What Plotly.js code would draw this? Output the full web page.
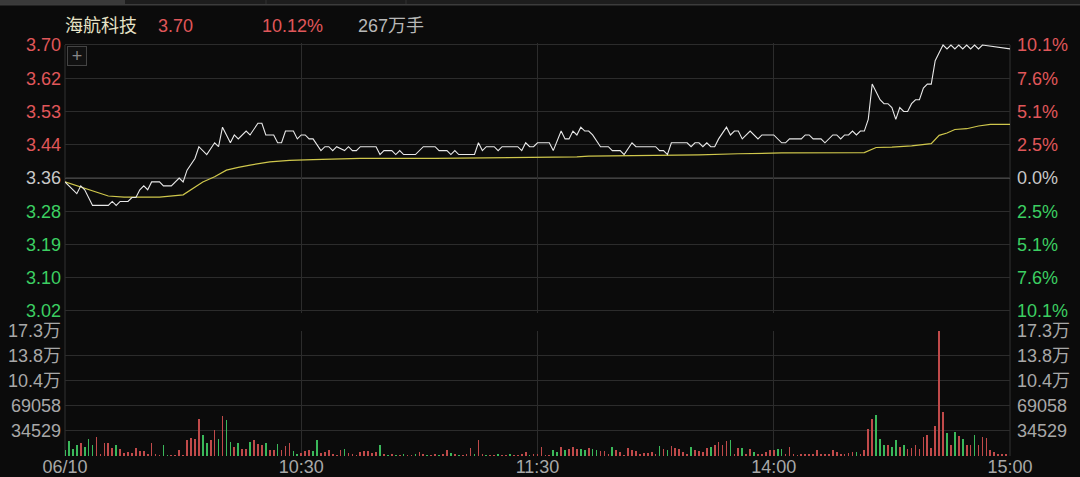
<!DOCTYPE html>
<html>
<head>
<meta charset="utf-8">
<script src="https://cdn.plot.ly/plotly-3.0.1.min.js"></script>
<style>
html,body{margin:0;padding:0;background:#0b0b0b;}
#chart{width:1080px;height:477px;}
</style>
</head>
<body>
<div id="chart"></div>
<script>
// ---------------- DATA ----------------
const stockName = '海航科技';
const lastPrice = '3.70';
const changePct = '10.12%';
const totalVolume = '267万手';
const prevClose = 3.36;

// minute index (0 = 09:30, 120 = 11:30/13:00, 240 = 15:00) and price
const priceT = [0,3,4,5,7,11,12,13,14,16,17,18,19,20,21,22,24,25,27,29,30,31,33,34,36,38,39,40,42,43,44,46,47,49,50,51,53,54,55,56,58,59,60,61,62,63,65,66,67,68,69,71,72,73,74,75,79,80,81,83,84,85,86,89,91,94,95,97,98,99,100,104,105,106,107,109,110,111,115,116,117,118,119,120,123,124,126,127,128,129,130,131,132,133,134,136,138,139,141,142,144,145,150,151,152,153,154,158,159,160,161,162,163,164,165,166,168,169,170,171,172,174,176,177,180,182,183,184,187,188,189,190,192,193,195,196,197,198,199,200,201,202,203,204,205,206,207,208,209,210,211,212,213,214,215,216,217,218,219,220,221,222,223,224,225,226,227,228,229,230,231,232,233,240];
const priceV = [3.35,3.32,3.34,3.33,3.29,3.29,3.30,3.29,3.30,3.30,3.31,3.31,3.33,3.34,3.33,3.35,3.35,3.34,3.34,3.36,3.35,3.38,3.41,3.44,3.42,3.45,3.44,3.49,3.45,3.47,3.46,3.48,3.47,3.50,3.50,3.47,3.47,3.45,3.45,3.48,3.48,3.46,3.47,3.47,3.46,3.46,3.43,3.44,3.44,3.43,3.44,3.43,3.44,3.43,3.43,3.44,3.44,3.42,3.43,3.43,3.42,3.43,3.42,3.42,3.44,3.44,3.43,3.43,3.42,3.43,3.42,3.42,3.45,3.43,3.44,3.44,3.43,3.44,3.44,3.43,3.45,3.44,3.44,3.45,3.45,3.43,3.48,3.46,3.46,3.48,3.47,3.49,3.48,3.48,3.47,3.44,3.44,3.43,3.43,3.42,3.45,3.44,3.44,3.43,3.43,3.42,3.45,3.45,3.44,3.45,3.45,3.44,3.45,3.44,3.44,3.46,3.49,3.47,3.48,3.48,3.46,3.48,3.46,3.47,3.47,3.45,3.45,3.46,3.46,3.47,3.47,3.46,3.46,3.45,3.47,3.47,3.46,3.47,3.47,3.48,3.47,3.48,3.48,3.51,3.60,3.58,3.56,3.55,3.55,3.54,3.51,3.54,3.53,3.53,3.55,3.56,3.56,3.59,3.60,3.60,3.66,3.68,3.70,3.69,3.70,3.69,3.70,3.69,3.70,3.69,3.70,3.69,3.70,3.69,3.70];

// average price line
const avgT = [0,3,5,7,11,15,24,30,33,35,38,41,44,47,52,57,63,70,75,94,124,130,133,153,161,171,182,203,206,210,215,220,222,224,226,229,232,235,240];
const avgV = [3.350,3.340,3.335,3.327,3.314,3.311,3.311,3.317,3.336,3.350,3.363,3.380,3.387,3.393,3.401,3.405,3.407,3.408,3.410,3.410,3.412,3.414,3.416,3.418,3.419,3.422,3.424,3.425,3.438,3.439,3.442,3.448,3.469,3.475,3.484,3.486,3.493,3.497,3.497];

// per-minute volume (240 bars) and direction (1 = up/red, -1 = down/green)
const volume = [
8700,20700,10100,14700,18400,12400,23900,15600,26200,3200,
18400,18400,11500,15600,10100,4100,5500,4100,11500,6900,
6900,2300,18000,3200,1500,14700,1500,1500,2000,8700,
2000,21600,25300,23000,51600,28500,18000,21600,35500,23900,
54800,49300,19300,12400,18000,10100,10100,19300,21600,17000,
14700,18000,8700,8700,16100,7800,13400,18000,6900,3200,
4100,6900,7800,6900,21600,4100,5500,8700,2300,1800,
7800,10100,4100,2300,1500,5500,6900,6900,4600,5500,
14700,2300,1500,2300,1800,1500,2300,1500,1800,2300,
5500,2300,1500,1800,2300,1500,3200,8700,4100,2300,
1800,1500,2300,11000,2300,21600,2300,1800,1500,1800,
2300,1500,1800,2300,1500,1800,2300,5500,1800,2300,
3200,12400,1000,800,7800,5500,12400,8700,10100,12400,
10100,10100,8700,11000,9200,7800,6400,6900,3200,12400,
7800,5000,1800,10600,7800,6400,3200,4100,4100,5500,
3200,13400,9600,7800,13400,11000,10100,5500,2300,12400,
7800,6400,5000,11000,12400,14700,19300,15200,20300,21600,
3200,11000,11000,2300,9200,5500,3200,3200,5500,7800,
7800,9600,10100,3200,12400,2300,1500,3200,3200,3200,
2300,7800,3200,2300,2300,7800,5500,3200,3200,4100,
5000,5500,3200,7800,37700,50600,56200,23900,14700,15700,
12400,21600,12400,14700,10100,11000,15700,10100,26200,28500,
11000,41000,172600,60800,31800,14700,32700,27200,23900,14700,
15700,29500,14700,26200,25300,7800,5500,3200,2300,2300
];
const volDir = [
-1,-1,-1,-1,1,-1,-1,-1,1,1,
1,1,1,-1,1,1,1,1,1,1,
1,1,1,1,1,-1,-1,1,1,1,
1,1,1,1,1,-1,-1,1,1,-1,
1,-1,-1,1,-1,1,1,-1,1,1,
1,-1,1,1,-1,1,1,1,-1,-1,
1,1,1,-1,-1,1,1,1,1,1,
1,-1,1,1,1,1,1,1,1,1,
-1,1,-1,1,-1,1,-1,1,1,-1,
1,1,-1,1,1,-1,1,1,-1,1,
-1,1,1,1,-1,1,1,-1,1,1,
-1,1,1,-1,1,1,1,1,-1,1,
1,1,1,1,-1,-1,1,-1,1,1,
1,-1,-1,1,-1,-1,1,1,1,-1,
1,1,1,1,1,1,1,1,1,1,
1,-1,1,-1,1,1,1,1,1,-1,
1,1,1,1,-1,1,1,1,1,-1,
1,1,-1,1,1,-1,1,1,1,1,
1,-1,-1,1,1,1,1,1,1,1,
1,1,1,1,1,1,1,1,1,1,
1,-1,1,1,1,1,-1,-1,-1,1,
-1,-1,1,-1,1,1,1,1,1,1,
1,1,1,1,-1,1,-1,1,-1,1,
1,-1,1,1,1,1,1,1,1,1
];

// axis ticks
const priceTickVals = [3.02,3.105,3.19,3.275,3.36,3.445,3.53,3.615,3.70];
const priceTickText = ['3.02','3.10','3.19','3.28','3.36','3.44','3.53','3.62','3.70'];
const pctTickText = ['10.1%','7.6%','5.1%','2.5%','0.0%','2.5%','5.1%','7.6%','10.1%'];
const volTickVals = [34529,69058,103587,138116,172645];
const volTickText = ['34529','69058','10.4万','13.8万','17.3万'];
const timeTickVals = [0,60,120,180,240];
const timeTickText = ['06/10','10:30','11:30','14:00','15:00'];

// ---------------- STYLE ----------------
const BG = '#0b0b0b';
const GRID = '#2c2c2c';
const RED = '#e0575a';
const GREEN = '#3ccf62';
const NEUTRAL = '#c8c8c8';
const BAR_RED = '#c04a4a';
const BAR_GREEN = '#3ab85a';
const FONT = 'Liberation Sans, Arial, "Noto Sans CJK SC", sans-serif';

const W = 1080, H = 477, ML = 65, MR = 70, MT = 42, MB = 21;
const PW = W - ML - MR, PH = H - MT - MB;
const px = x => (x - ML) / PW;
const py = y => (H - MB - y) / PH;

// price panel: 3.70 at y=45px, 3.02 at y=311px; pad range slightly so the limit-up line is not clipped
const PAD = 0.004;
const pxPerYuan = (311 - 45) / (priceTickVals[8] - priceTickVals[0]);
const priceRange = [priceTickVals[0] - PAD, priceTickVals[8] + PAD];
const priceDomain = [py(311 + PAD * pxPerYuan), py(45 - PAD * pxPerYuan)];
const toPct = v => (v - prevClose) / prevClose * 100;

function colorFor(v, ref) {
  if (Math.abs(v - ref) < 1e-9) return NEUTRAL;
  return v > ref ? RED : GREEN;
}
const priceTickLabels = priceTickVals.map((v, i) =>
  '<span style="color:' + colorFor(v, prevClose) + '">' + priceTickText[i] + '</span>');
const pctTickVals = priceTickVals.map(toPct);
const pctTickLabels = pctTickVals.map((v, i) =>
  '<span style="color:' + colorFor(Math.round(v * 1000), 0) + '">' + pctTickText[i] + '</span>');
const pctRange = priceRange.map(toPct);

const upX = [], upY = [], dnX = [], dnY = [];
volume.forEach((v, i) => {
  if (volDir[i] > 0) { upX.push(i); upY.push(v); } else { dnX.push(i); dnY.push(v); }
});

const traces = [
  {x: avgT, y: avgV, type: 'scatter', mode: 'lines', xaxis: 'x', yaxis: 'y',
   line: {color: '#cfc74c', width: 1.2}, hoverinfo: 'skip'},
  {x: priceT, y: priceV.map(toPct), type: 'scatter', mode: 'lines', xaxis: 'x', yaxis: 'y3',
   line: {color: '#e8e8e8', width: 1.1}, hoverinfo: 'skip'},
  {x: upX, y: upY, type: 'bar', xaxis: 'x2', yaxis: 'y2',
   marker: {color: BAR_RED, line: {width: 0}}, width: 0.42, hoverinfo: 'skip'},
  {x: dnX, y: dnY, type: 'bar', xaxis: 'x2', yaxis: 'y4',
   marker: {color: BAR_GREEN, line: {width: 0}}, width: 0.42, hoverinfo: 'skip'}
];

const axisFont = {family: FONT, size: 18, color: '#a8a8a8'};
const layout = {
  width: W, height: H,
  paper_bgcolor: BG, plot_bgcolor: BG,
  margin: {l: ML, r: MR, t: MT, b: MB, pad: 0},
  showlegend: false,
  font: {family: FONT, size: 18, color: '#a8a8a8'},
  bargap: 0,
  xaxis: {domain: [0, 1], anchor: 'y', range: [0, 240], tickvals: [60, 120, 180],
          showticklabels: false, showgrid: true, gridcolor: GRID, gridwidth: 1,
          zeroline: false, showline: false, ticks: '', fixedrange: true},
  yaxis: {domain: priceDomain, anchor: 'x', range: priceRange,
          tickvals: priceTickVals, ticktext: priceTickLabels, tickfont: axisFont,
          showgrid: true, gridcolor: GRID, zeroline: false, showline: false, ticks: '',
          ticklabelstandoff: 3, fixedrange: true},
  yaxis3: {overlaying: 'y', anchor: 'x', side: 'right', range: pctRange,
           tickvals: pctTickVals, ticktext: pctTickLabels, tickfont: axisFont,
           showgrid: false, zeroline: false, showline: false, ticks: '',
           ticklabelstandoff: 6, fixedrange: true},
  xaxis2: {domain: [0, 1], anchor: 'y2', range: [0, 240], tickvals: timeTickVals,
           ticktext: timeTickText, tickfont: axisFont, showgrid: true, gridcolor: GRID,
           zeroline: false, showline: false, ticks: '', ticklabelstandoff: -2, fixedrange: true},
  yaxis2: {domain: [0, py(330.7)], anchor: 'x2', range: [0, volTickVals[4]],
           tickvals: volTickVals, ticktext: volTickText, tickfont: axisFont,
           showgrid: true, gridcolor: GRID, zeroline: false, showline: false, ticks: '',
           ticklabelstandoff: 3, fixedrange: true},
  yaxis4: {overlaying: 'y2', anchor: 'x2', side: 'right', range: [0, volTickVals[4]],
           tickvals: volTickVals, ticktext: volTickText, tickfont: axisFont,
           showgrid: false, zeroline: false, showline: false, ticks: '',
           ticklabelstandoff: 6, fixedrange: true},
  shapes: [
    // top strip
    {type: 'rect', xref: 'paper', yref: 'paper', x0: px(0), x1: px(1080), y0: py(4), y1: py(0),
     fillcolor: '#1d1d1d', line: {width: 0}, layer: 'below'},
    {type: 'rect', xref: 'paper', yref: 'paper', x0: px(0), x1: px(125), y0: py(4), y1: py(0),
     fillcolor: '#3a3a3a', line: {width: 0}, layer: 'below'},
    {type: 'line', xref: 'paper', yref: 'paper', x0: px(0), x1: px(1080), y0: py(4.8), y1: py(4.8),
     line: {color: '#3c3c3c', width: 1.5}, layer: 'below'},
    {type: 'line', xref: 'paper', yref: 'paper', x0: px(266), x1: px(266), y0: py(4), y1: py(0),
     line: {color: '#333', width: 1}, layer: 'below'},
    {type: 'line', xref: 'paper', yref: 'paper', x0: px(406), x1: px(406), y0: py(4), y1: py(0),
     line: {color: '#333', width: 1}, layer: 'below'},
    // frame
    {type: 'line', xref: 'paper', yref: 'paper', x0: 0, x1: 0, y0: 0, y1: py(45),
     line: {color: '#333', width: 1}, layer: 'below'},
    {type: 'line', xref: 'paper', yref: 'paper', x0: 1, x1: 1, y0: 0, y1: py(45),
     line: {color: '#333', width: 1}, layer: 'below'},
    // previous close line
    {type: 'line', xref: 'paper', yref: 'y', x0: 0, x1: 1, y0: prevClose, y1: prevClose,
     line: {color: '#555', width: 1.6}, layer: 'below'}
  ],
  annotations: [
    {xref: 'paper', yref: 'paper', x: px(63), y: py(26), xanchor: 'left', yanchor: 'middle',
     text: stockName, showarrow: false, font: {family: FONT, size: 18, color: '#e6e2c6'}},
    {xref: 'paper', yref: 'paper', x: px(156), y: py(26), xanchor: 'left', yanchor: 'middle',
     text: lastPrice, showarrow: false, font: {family: FONT, size: 18, color: RED}},
    {xref: 'paper', yref: 'paper', x: px(260), y: py(26), xanchor: 'left', yanchor: 'middle',
     text: changePct, showarrow: false, font: {family: FONT, size: 18, color: RED}},
    {xref: 'paper', yref: 'paper', x: px(356), y: py(26), xanchor: 'left', yanchor: 'middle',
     text: totalVolume, showarrow: false, font: {family: FONT, size: 18, color: '#b8b8b8'}},
    {xref: 'paper', yref: 'paper', x: px(77), y: py(56), xanchor: 'center', yanchor: 'middle',
     text: '+', showarrow: false, width: 16, height: 16, bordercolor: '#444', borderwidth: 1,
     borderpad: 1, bgcolor: '#111', font: {family: FONT, size: 18, color: '#888'}}
  ]
};

Plotly.newPlot('chart', traces, layout, {displayModeBar: false, staticPlot: true});
</script>
</body>
</html>
